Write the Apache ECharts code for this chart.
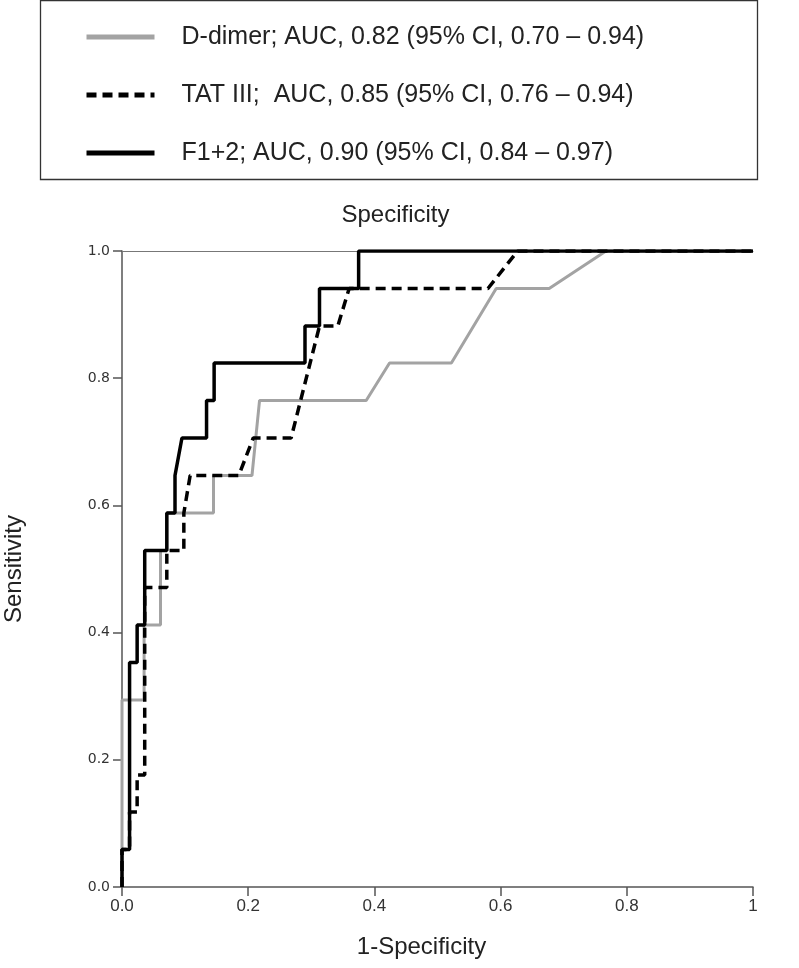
<!DOCTYPE html>
<html>
<head>
<meta charset="utf-8">
<script src="https://cdn.jsdelivr.net/npm/echarts@6/dist/echarts.min.js"></script>
<style>
html,body{margin:0;padding:0;background:#fff;}
#chart{width:799px;height:968px;}
</style>
</head>
<body>
<div id="chart"></div>
<script>
// ---- data ----
var seriesNames = [
  'D-dimer; AUC, 0.82 (95% CI, 0.70 \u2013 0.94)',
  'TAT III;  AUC, 0.85 (95% CI, 0.76 \u2013 0.94)',
  'F1+2; AUC, 0.90 (95% CI, 0.84 \u2013 0.97)'
];
var ddimerFpr = [0, 0, 0.035, 0.035, 0.061, 0.061, 0.071, 0.071, 0.145, 0.145, 0.206, 0.218, 0.387, 0.424, 0.522, 0.593, 0.677, 0.767, 1];
var ddimerTpr = [0, 0.294, 0.294, 0.412, 0.412, 0.529, 0.529, 0.588, 0.588, 0.647, 0.647, 0.765, 0.765, 0.824, 0.824, 0.941, 0.941, 1, 1];
var tatFpr = [0, 0, 0.012, 0.012, 0.024, 0.024, 0.036, 0.036, 0.071, 0.071, 0.098, 0.098, 0.108, 0.185, 0.208, 0.268, 0.313, 0.342, 0.36, 0.58, 0.627, 1];
var tatTpr = [0, 0.059, 0.059, 0.118, 0.118, 0.176, 0.176, 0.471, 0.471, 0.529, 0.529, 0.588, 0.647, 0.647, 0.706, 0.706, 0.882, 0.882, 0.941, 0.941, 1, 1];
var f12Fpr = [0, 0, 0.012, 0.012, 0.024, 0.024, 0.036, 0.036, 0.071, 0.071, 0.084, 0.084, 0.095, 0.134, 0.134, 0.146, 0.146, 0.29, 0.29, 0.313, 0.313, 0.375, 0.375, 1];
var f12Tpr = [0, 0.059, 0.059, 0.353, 0.353, 0.412, 0.412, 0.529, 0.529, 0.588, 0.588, 0.647, 0.706, 0.706, 0.765, 0.765, 0.824, 0.824, 0.882, 0.882, 0.941, 0.941, 1, 1];
var xTicks = [0, 0.2, 0.4, 0.6, 0.8, 1];
var yTicks = [0, 0.2, 0.4, 0.6, 0.8, 1];

function zip(a, b) { return a.map(function (v, i) { return [v, b[i]]; }); }

var axisCol = '#555';
var titleFont = 'Liberation Sans, Arial, sans-serif';
var chart = echarts.init(document.getElementById('chart'), null, {renderer: 'canvas'});
chart.setOption({
  animation: false,
  backgroundColor: '#fff',
  grid: {left: 122, right: 46, top: 251, bottom: 81, containLabel: false, outerBoundsMode: 'none'},
  graphic: [{
    type: 'rect',
    shape: {x: 40.5, y: 0.5, width: 717, height: 179},
    style: {fill: 'none', stroke: '#333', lineWidth: 1.3},
    silent: true
  }],
  legend: {
    orient: 'vertical', left: 84, top: 22,
    itemWidth: 68, itemHeight: 14, itemGap: 28, padding: 0,
    data: seriesNames,
    itemStyle: {opacity: 0},
    lineStyle: {width: 5},
    textStyle: {fontFamily: titleFont, fontSize: 25, color: '#222', lineHeight: 30, padding: [0, 0, 0, 22]}
  },
  xAxis: [{
    type: 'value', min: 0, max: 1, interval: 0.2,
    name: '1-Specificity', nameLocation: 'middle', nameGap: 48,
    nameTextStyle: {fontFamily: titleFont, fontSize: 24, color: '#222', padding: [0, 32, 0, 0]},
    axisLine: {show: true, onZero: false, lineStyle: {color: axisCol, width: 1.5}},
    axisTick: {show: true, length: 9, lineStyle: {color: axisCol, width: 1.5}},
    axisLabel: {
      margin: 11, fontFamily: titleFont, fontSize: 17, color: '#333',
      customValues: xTicks,
      formatter: function (v) { return v === 1 ? '1' : v.toFixed(1); }
    },
    splitLine: {show: false}
  }, {
    type: 'value', min: 0, max: 1, position: 'top',
    name: 'Specificity', nameLocation: 'middle', nameGap: 24,
    nameTextStyle: {fontFamily: titleFont, fontSize: 24, color: '#222', padding: [0, 84, 0, 0]},
    axisLine: {show: true, onZero: false, lineStyle: {color: '#777', width: 1.2}},
    axisTick: {show: false}, axisLabel: {show: false}, splitLine: {show: false}
  }],
  yAxis: {
    type: 'value', min: 0, max: 1, interval: 0.2,
    name: 'Sensitivity', nameLocation: 'middle', nameGap: 96, nameRotate: 90,
    nameTextStyle: {fontFamily: titleFont, fontSize: 24, color: '#222'},
    axisLine: {show: true, onZero: false, lineStyle: {color: axisCol, width: 1.5}},
    axisTick: {show: true, length: 9, lineStyle: {color: axisCol, width: 1.5}},
    axisLabel: {
      margin: 12, fontFamily: 'DejaVu Sans, sans-serif', fontSize: 14, color: '#333',
      customValues: yTicks,
      formatter: function (v) { return v.toFixed(1); }
    },
    splitLine: {show: false}
  },
  series: [{
    name: seriesNames[0], type: 'line', symbol: 'none', data: zip(ddimerFpr, ddimerTpr),
    lineStyle: {color: '#a3a3a3', width: 3}, itemStyle: {color: '#a3a3a3'}, z: 2
  }, {
    name: seriesNames[1], type: 'line', symbol: 'none', data: zip(tatFpr, tatTpr),
    lineStyle: {color: '#000', width: 3.5, type: [10, 6]}, itemStyle: {color: '#000'}, z: 3
  }, {
    name: seriesNames[2], type: 'line', symbol: 'none', data: zip(f12Fpr, f12Tpr),
    lineStyle: {color: '#000', width: 3.5}, itemStyle: {color: '#000'}, z: 4
  }]
});
</script>
</body>
</html>
